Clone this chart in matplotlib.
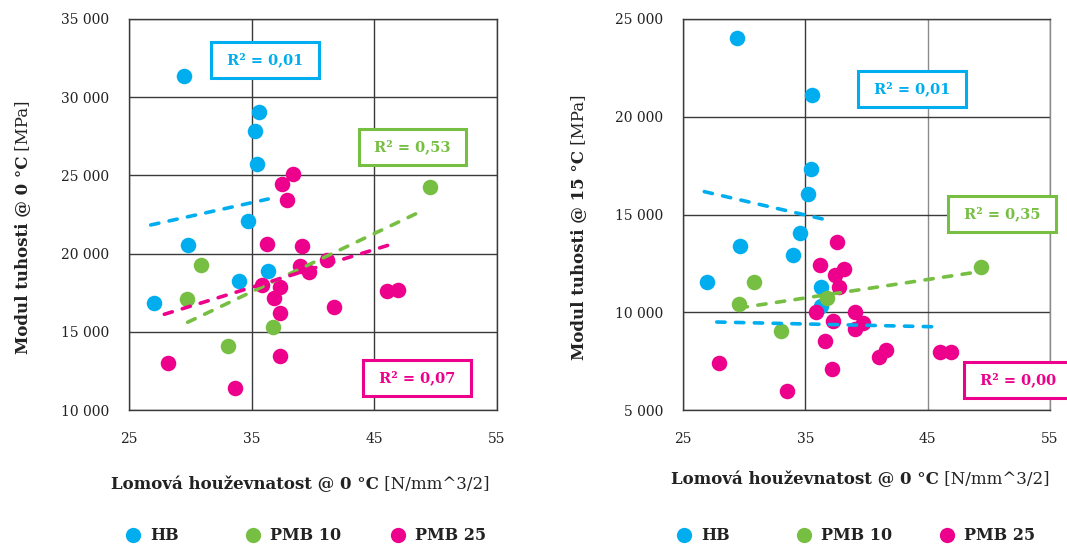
import matplotlib
matplotlib.use("Agg")
import matplotlib.pyplot as plt
import matplotlib.ticker as mticker
from matplotlib.lines import Line2D
from matplotlib.transforms import IdentityTransform

plt.rcParams['font.family'] = ['DejaVu Serif']

W, H, DPI = 1067, 544, 100

COL_HB = '#00AEEF'
COL_P10 = '#77BF43'
COL_P25 = '#EC008C'
GRID = '#3a3a3a'
TEXT = '#222222'

series_names = ['HB', 'PMB 10', 'PMB 25']
series_colors = [COL_HB, COL_P10, COL_P25]

# ---- Fracture toughness @ 0 °C vs. stiffness modulus @ 0 °C ----
hb_x_0 = [29.51, 35.60, 35.27, 35.43, 34.70, 29.78, 36.30, 33.96, 27.04]
hb_y_0 = [31350, 29040, 27860, 25710, 22100, 20530, 18870, 18270, 16820]
p10_x_0 = [49.51, 30.89, 29.73, 36.76, 33.04]
p10_y_0 = [24280, 19290, 17080, 15310, 14070]
p25_x_0 = [38.39, 37.49, 37.85, 36.25, 39.10, 38.96, 41.16, 39.69, 35.86,
           37.31, 36.79, 37.33, 41.68, 46.05, 46.95, 37.28, 28.18, 33.61]
p25_y_0 = [25070, 24450, 23430, 20590, 20490, 19210, 19590, 18840, 17990,
           17890, 17140, 16220, 16590, 17630, 17670, 13450, 13020, 11430]
trend_x_0 = {'HB': [26.77, 36.35], 'PMB 10': [29.78, 49.04], 'PMB 25': [27.88, 46.82]}
trend_y_0 = {'HB': [21830, 23490], 'PMB 10': [15610, 22790], 'PMB 25': [16120, 20700]}
r2_0 = {'HB': '0,01', 'PMB 10': '0,53', 'PMB 25': '0,07'}

# ---- Fracture toughness @ 0 °C vs. stiffness modulus @ 15 °C ----
hb_x_15 = [29.39, 35.55, 35.49, 35.25, 34.59, 29.64, 33.97, 26.99, 36.28, 36.26]
hb_y_15 = [24010, 21100, 17310, 16060, 14070, 13400, 12910, 11560, 11280, 10320]
p10_x_15 = [30.83, 29.60, 36.75, 32.99, 49.39]
p10_y_15 = [11550, 10440, 10730, 9060, 12330]
p25_x_15 = [37.62, 36.23, 37.43, 38.19, 37.78, 35.87, 37.26, 39.09, 39.69,
            39.04, 36.61, 41.62, 41.05, 45.99, 46.91, 27.94, 37.21, 33.53]
p25_y_15 = [13590, 12400, 11900, 12210, 11310, 10000, 9570, 10000, 9440,
            9160, 8530, 8070, 7730, 7950, 7950, 7400, 7100, 5970]
trend_x_15 = {'HB': [26.74, 36.42], 'PMB 10': [29.60, 49.28], 'PMB 25': [27.76, 46.01]}
trend_y_15 = {'HB': [16170, 14770], 'PMB 10': [10220, 12080], 'PMB 25': [9500, 9250]}
# the PMB 25 trend line of this chart is drawn in the HB colour
trend_col_15 = {'HB': COL_HB, 'PMB 10': COL_P10, 'PMB 25': COL_HB}
r2_15 = {'HB': '0,01', 'PMB 10': '0,35', 'PMB 25': '0,00'}

x_ticks = [25, 35, 45, 55]
y_ticks_0 = [10000, 15000, 20000, 25000, 30000, 35000]
y_ticks_15 = [5000, 10000, 15000, 20000, 25000]

fig = plt.figure(figsize=(W / DPI, H / DPI), dpi=DPI)


def px_axes(l, t, r, b):
    return fig.add_axes([l / W, 1 - b / H, (r - l) / W, (b - t) / H])


def thousands(v, _pos):
    return f"{int(round(v)):,}".replace(',', ' ')


def setup(ax, yticks, light_right=False):
    ax.set_xlim(x_ticks[0], x_ticks[-1])
    ax.set_ylim(yticks[0], yticks[-1])
    ax.set_xticks(x_ticks)
    ax.set_yticks(yticks)
    ax.yaxis.set_major_formatter(mticker.FuncFormatter(thousands))
    ax.tick_params(axis='both', length=0, labelsize=10, colors=TEXT)
    ax.tick_params(axis='x', pad=16)
    ax.tick_params(axis='y', pad=14)
    for s in ax.spines.values():
        s.set_color(GRID)
        s.set_linewidth(1.0)
    ax.grid(True, color=GRID, linewidth=1.0)
    ax.set_axisbelow(True)
    if light_right:
        ax.spines['right'].set_color('#8c8c8c')


def draw_panel(ax, xs, ys, tx, ty, tcol, r2, boxes):
    for (x, y), col in zip(zip(xs, ys), series_colors):
        ax.scatter(x, y, s=125, color=col, linewidths=0, zorder=3)
    for name in series_names:
        ax.plot(tx[name], ty[name], color=tcol[name], lw=2.6,
                dashes=(2.3, 2.9), dash_capstyle='round', zorder=4)
    for name, col in zip(series_names, series_colors):
        fx, fy = boxes[name]
        ax.text(fx, fy, f" R² = {r2[name]} ", transform=ax.transAxes,
                ha='center', va='center', fontsize=10.5, fontweight='bold',
                color=col, zorder=6, clip_on=False,
                bbox=dict(boxstyle='square,pad=0.72', fc='white', ec=col, lw=2.2))


ax0 = px_axes(129, 19, 497, 410)
setup(ax0, y_ticks_0)
draw_panel(ax0, [hb_x_0, p10_x_0, p25_x_0], [hb_y_0, p10_y_0, p25_y_0],
           trend_x_0, trend_y_0, dict(zip(series_names, series_colors)), r2_0,
           {'HB': (0.3696, 0.8959), 'PMB 10': (0.7704, 0.6726), 'PMB 25': (0.7826, 0.0818)})

ax1 = px_axes(683, 19, 1050, 410)
setup(ax1, y_ticks_15, light_right=True)
ax1.get_xgridlines()[2].set_color('#8c8c8c')
draw_panel(ax1, [hb_x_15, p10_x_15, p25_x_15], [hb_y_15, p10_y_15, p25_y_15],
           trend_x_15, trend_y_15, trend_col_15, r2_15,
           {'HB': (0.624, 0.8203), 'PMB 10': (0.869, 0.5017), 'PMB 25': (0.913, 0.0768)})

renderer = fig.canvas.get_renderer()


def mixed_label(xc, yc, bold, regular, size, vertical=False):
    """Bold caption followed by a regular-weight unit, centred on (xc, yc) in pixels from top-left."""
    kw = dict(fontsize=size, color=TEXT, transform=IdentityTransform(),
              ha='left', va='baseline', rotation_mode='anchor')
    t1 = fig.text(0, 0, bold, fontweight='bold', **kw)
    t2 = fig.text(0, 0, regular, **kw)
    w1 = t1.get_window_extent(renderer).width
    w2 = t2.get_window_extent(renderer).width
    total = w1 + w2
    if vertical:
        xb = xc + size * DPI / 72 * 0.36
        y0 = (H - yc) - total / 2
        t1.set_rotation(90)
        t2.set_rotation(90)
        t1.set_position((xb, y0))
        t2.set_position((xb, y0 + w1))
    else:
        yb = (H - yc) - size * DPI / 72 * 0.36
        x0 = xc - total / 2
        t1.set_position((x0, yb))
        t2.set_position((x0 + w1, yb))


mixed_label(300, 483, 'Lomová houževnatost @ 0 °C', ' [N/mm^3/2]', 12)
mixed_label(860, 478, 'Lomová houževnatost @ 0 °C', ' [N/mm^3/2]', 12)
mixed_label(21, 227, 'Modul tuhosti @ 0 °C', ' [MPa]', 12, vertical=True)
mixed_label(577, 227, 'Modul tuhosti @ 15 °C', ' [MPa]', 12, vertical=True)


def legend_row(marker_xs, y):
    """Series key below a panel: marker centres at marker_xs (pixels), labels just right of them."""
    for mx, name, col in zip(marker_xs, series_names, series_colors):
        fig.add_artist(Line2D([mx / W], [1 - y / H], transform=fig.transFigure,
                              linestyle='none', marker='o', markersize=11,
                              markerfacecolor=col, markeredgewidth=0))
        fig.text((mx + 17) / W, 1 - (y + 4.5) / H, name, ha='left', va='baseline',
                 fontsize=11.5, fontweight='bold', color=TEXT)


legend_row([133, 253, 398], 535)
legend_row([684, 804, 947], 535)

fig.savefig('out.png', dpi=DPI)
